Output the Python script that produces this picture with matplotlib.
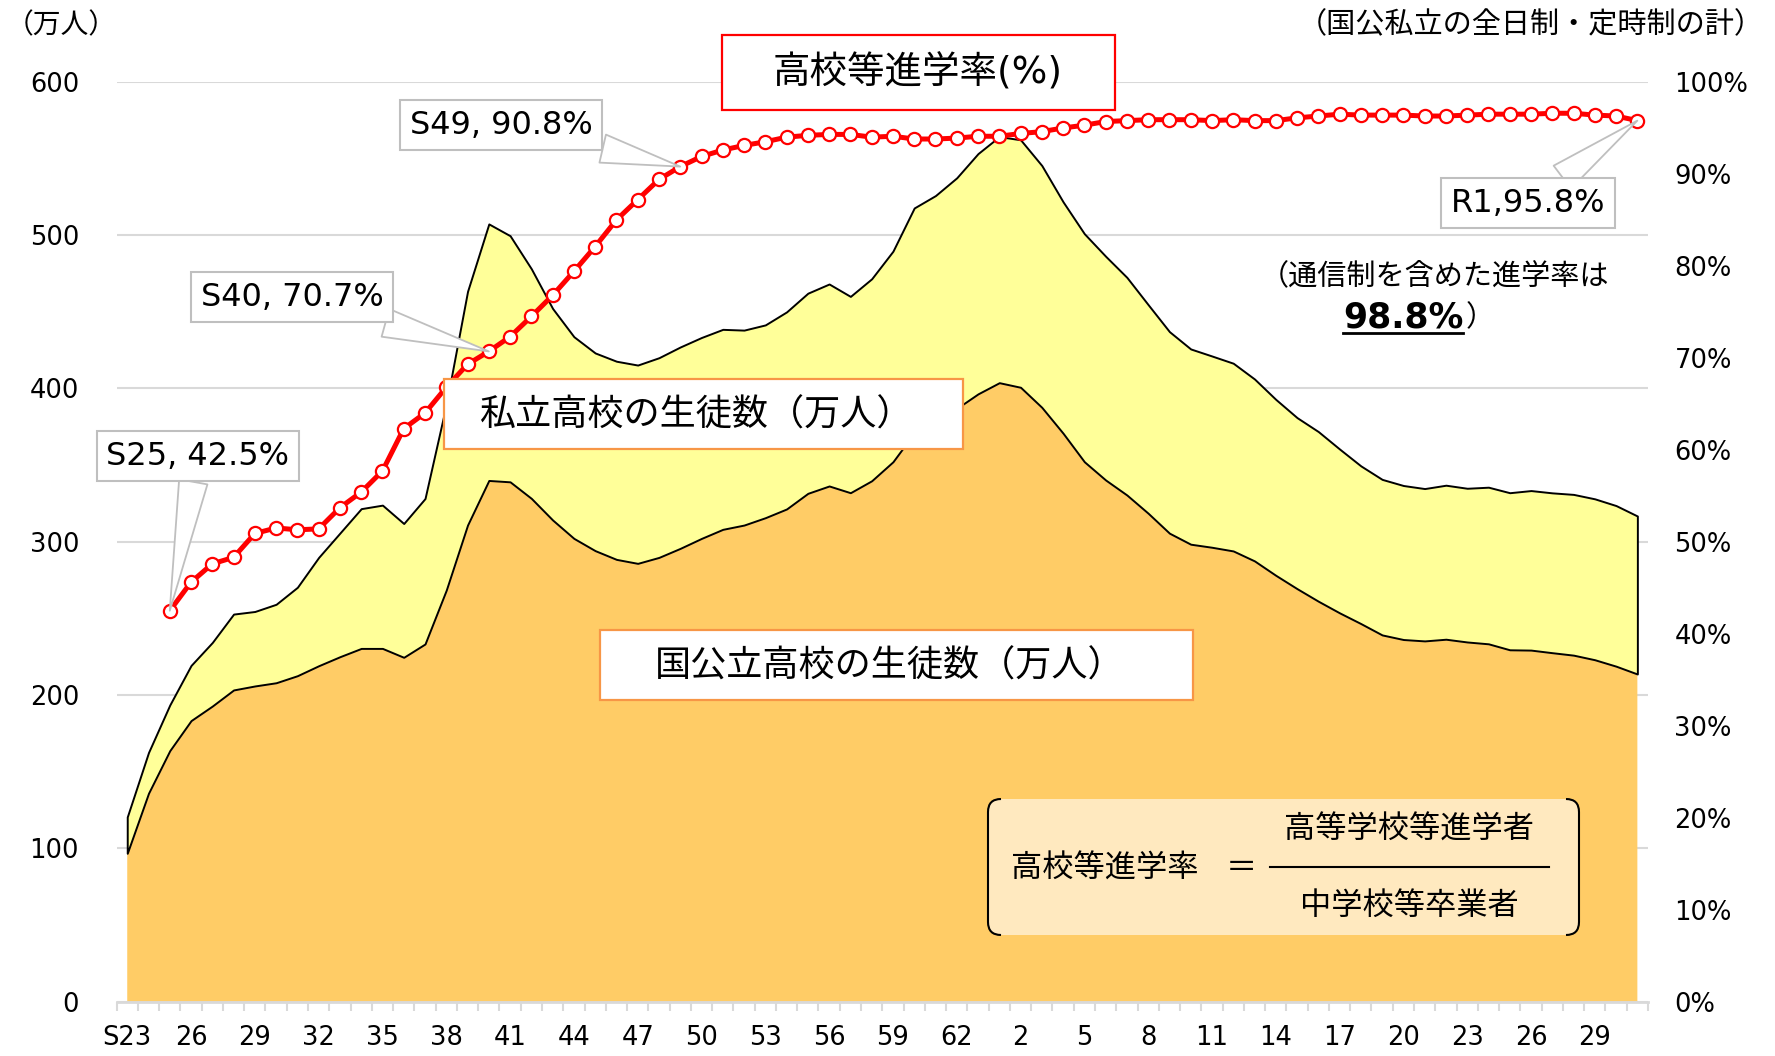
import matplotlib
matplotlib.use('Agg')
import matplotlib.pyplot as plt
from matplotlib.patches import Rectangle, FancyBboxPatch, PathPatch
from matplotlib.path import Path
import numpy as np

plt.rcParams['font.family'] = ['DejaVu Sans', 'Noto Sans CJK JP']

# ---------------- data ----------------
categories = ['S23', 'S24', 'S25', 'S26', 'S27', 'S28', 'S29', 'S30', 'S31', 'S32',
              'S33', 'S34', 'S35', 'S36', 'S37', 'S38', 'S39', 'S40', 'S41', 'S42',
              'S43', 'S44', 'S45', 'S46', 'S47', 'S48', 'S49', 'S50', 'S51', 'S52',
              'S53', 'S54', 'S55', 'S56', 'S57', 'S58', 'S59', 'S60', 'S61', 'S62',
              'S63', 'H1', 'H2', 'H3', 'H4', 'H5', 'H6', 'H7', 'H8', 'H9',
              'H10', 'H11', 'H12', 'H13', 'H14', 'H15', 'H16', 'H17', 'H18', 'H19',
              'H20', 'H21', 'H22', 'H23', 'H24', 'H25', 'H26', 'H27', 'H28', 'H29',
              'H30', 'R1']

# total students (national/public + private), 10k persons
total = [120.4, 162.5, 193.5, 219.3, 234.3, 252.8, 254.5, 259.2, 270.3, 289.8,
         305.7, 321.6, 323.9, 311.9, 328.2, 389.7, 463.4, 507.4, 499.7, 478.1,
         452.2, 433.8, 423.2, 417.8, 415.3, 420.1, 427.1, 433.3, 438.6, 438.1,
         441.5, 450.0, 462.2, 468.2, 460.1, 471.6, 489.6, 517.8, 525.9, 537.5,
         553.3, 564.4, 562.3, 545.5, 521.8, 501.0, 486.3, 472.5, 454.7, 437.1,
         425.8, 421.2, 416.5, 406.2, 392.9, 381.0, 371.9, 360.5, 349.5, 340.7,
         336.7, 334.7, 336.9, 334.9, 335.6, 332.0, 333.4, 331.9, 330.9, 328.0,
         323.6, 316.8]

# national/public students, 10k persons
public = [96.7, 135.9, 163.7, 183.3, 192.8, 203.3, 205.9, 208.0, 212.6, 219.1,
          225.0, 230.4, 230.4, 224.6, 233.3, 268.5, 310.9, 340.0, 339.1, 328.3,
          314.2, 302.2, 294.2, 288.5, 285.9, 289.8, 295.7, 302.2, 308.1, 310.9,
          315.7, 321.4, 331.6, 336.4, 332.0, 339.8, 352.2, 371.0, 379.0, 387.0,
          396.5, 403.8, 400.8, 387.7, 370.8, 352.2, 340.3, 330.5, 318.6, 305.6,
          298.4, 296.4, 294.0, 287.5, 278.1, 269.4, 261.2, 253.6, 246.6, 239.2,
          236.2, 235.3, 236.4, 234.6, 233.4, 229.5, 229.3, 227.6, 226.0, 223.0,
          218.8, 213.7]

# enrolment rate (%), from S25 to R1
rate_categories = categories[2:]
rate = [42.5, 45.6, 47.6, 48.3, 50.9, 51.5, 51.3, 51.4, 53.7, 55.4,
        57.7, 62.3, 64.0, 66.8, 69.3, 70.7, 72.3, 74.5, 76.8, 79.4,
        82.1, 85.0, 87.2, 89.4, 90.8, 91.9, 92.6, 93.1, 93.5, 94.0,
        94.2, 94.3, 94.3, 94.0, 94.1, 93.8, 93.8, 93.9, 94.1, 94.1,
        94.4, 94.6, 95.0, 95.3, 95.7, 95.8, 95.9, 95.9, 95.9, 95.8,
        95.9, 95.8, 95.8, 96.1, 96.3, 96.5, 96.4, 96.4, 96.4, 96.3,
        96.3, 96.4, 96.5, 96.5, 96.5, 96.6, 96.6, 96.4, 96.3, 95.8]

xtick_categories = ['S23', 'S26', 'S29', 'S32', 'S35', 'S38', 'S41', 'S44', 'S47', 'S50',
                    'S53', 'S56', 'S59', 'S62', 'H2', 'H5', 'H8', 'H11', 'H14', 'H17',
                    'H20', 'H23', 'H26', 'H29']
xtick_labels = ['S23', '26', '29', '32', '35', '38', '41', '44', '47', '50',
                '53', '56', '59', '62', '2', '5', '8', '11', '14', '17',
                '20', '23', '26', '29']

left_ticks = [0, 100, 200, 300, 400, 500, 600]
right_ticks = [0, 10, 20, 30, 40, 50, 60, 70, 80, 90, 100]

callouts = [('S25', 'S25, 42.5%'), ('S40', 'S40, 70.7%'), ('S49', 'S49, 90.8%'), ('R1', 'R1,95.8%')]

# ---------------- figure ----------------
W, H = 1775, 1056
fig = plt.figure(figsize=(W / 100, H / 100), dpi=100)
L, R, T, B = 116.6, 1648.0, 82.0, 1001.5
ax = fig.add_axes([L / W, 1 - B / H, (R - L) / W, (B - T) / H])

x = np.arange(len(categories))
idx = {c: i for i, c in enumerate(categories)}

ax.fill_between(x, 0, public, facecolor='#FFCC66', edgecolor='none', zorder=2)
ax.fill_between(x, public, total, facecolor='#FFFF99', edgecolor='black', linewidth=1.4, zorder=3)

ax.set_xlim(-0.5, len(categories) - 0.5)
ax.set_ylim(0, 600)
ax.set_yticks(left_ticks)
ax.set_yticklabels([str(v) for v in left_ticks])
ax.grid(axis='y', color='#D9D9D9', linewidth=1.5, zorder=0)
ax.set_axisbelow(True)
for s in ['left', 'right', 'top']:
    ax.spines[s].set_visible(False)
ax.spines['bottom'].set_color('#D9D9D9')
ax.spines['bottom'].set_linewidth(2)
ax.spines['bottom'].set_zorder(4)

ax.set_xticks([idx[c] for c in xtick_categories])
ax.set_xticklabels(xtick_labels)
ax.set_xticks(np.arange(-0.5, len(categories), 1.0), minor=True)
ax.tick_params(axis='x', which='major', length=0, pad=17, labelsize=18.5)
ax.tick_params(axis='x', which='minor', length=6.5, width=1.5, color='#D9D9D9', direction='out')
ax.tick_params(axis='y', length=0, pad=27, labelsize=18.5)

ax2 = ax.twinx()
ax2.set_ylim(0, 100)
ax2.set_yticks(right_ticks)
ax2.set_yticklabels([f'{v}%' for v in right_ticks])
ax2.tick_params(axis='y', length=0, pad=19, labelsize=18.5)
for s in ax2.spines.values():
    s.set_visible(False)

rx = [idx[c] for c in rate_categories]
ax2.plot(rx, rate, color='#FF0000', linewidth=3.6, marker='o', markersize=9.5,
         markerfacecolor='white', markeredgecolor='#FF0000', markeredgewidth=1.6, zorder=4)

# callouts
callout_pos = {'S25': (198, 456), 'S40': (292, 297), 'S49': (501, 125), 'R1': (1528, 203)}
rate_map = dict(zip(rate_categories, rate))
for cat, label in callouts:
    px, py = callout_pos[cat]
    ax2.annotate(label, xy=(idx[cat], rate_map[cat]), xycoords='data',
                 xytext=(px / W, 1 - py / H), textcoords='figure fraction',
                 ha='center', va='center', fontsize=23, zorder=6,
                 bbox=dict(boxstyle='square,pad=0.3', fc='white', ec='#BFBFBF', lw=1.5),
                 arrowprops=dict(arrowstyle='wedge,tail_width=0.9,shrink_factor=0.5',
                                 fc='white', ec='#BFBFBF', lw=1.3, shrinkA=0, shrinkB=0))

# ---------------- overlay (pixel coordinates) ----------------
oa = fig.add_axes([0, 0, 1, 1])
oa.set_xlim(0, W)
oa.set_ylim(H, 0)
oa.axis('off')
oa.set_zorder(10)

oa.text(6, 25, '（万人）', ha='left', va='center', fontsize=20)
oa.text(1764, 25, '（国公私立の全日制・定時制の計）', ha='right', va='center', fontsize=21)

oa.add_patch(Rectangle((722, 35), 393, 75, fc='white', ec='#FF0000', lw=1.6))
oa.text(918, 73, '高校等進学率(%)', ha='center', va='center', fontsize=27)

oa.add_patch(Rectangle((444, 379), 519, 70, fc='white', ec='#F79646', lw=1.6))
oa.text(697, 415, '私立高校の生徒数（万人）', ha='center', va='center', fontsize=26)

oa.add_patch(Rectangle((600, 630), 593, 70, fc='white', ec='#F79646', lw=1.6))
oa.text(890, 666, '国公立高校の生徒数（万人）', ha='center', va='center', fontsize=26)

# note on correspondence courses
oa.text(1260, 276, '（通信制を含めた進学率は', ha='left', va='center', fontsize=21)
t988 = oa.text(1343, 318, '98.8%', ha='left', va='center', fontsize=25, fontweight='bold')
fig.canvas.draw()
bb = t988.get_window_extent().transformed(oa.transData.inverted())
x0, x1 = min(bb.x0, bb.x1), max(bb.x0, bb.x1)
ybot = max(bb.y0, bb.y1)
oa.plot([x0, x1], [ybot - 2, ybot - 2], color='black', lw=2)
oa.text(x1 + 2, 318, '）', ha='left', va='center', fontsize=21)

# formula box
oa.add_patch(FancyBboxPatch((988, 799), 591, 136, boxstyle='round,pad=0,rounding_size=14',
                            fc='#FFE9BF', ec='none'))
r = 13
lb = Path([(988 + r, 799), (988, 799), (988, 799 + r), (988, 935 - r), (988, 935), (988 + r, 935)],
          [Path.MOVETO, Path.CURVE3, Path.CURVE3, Path.LINETO, Path.CURVE3, Path.CURVE3])
rb = Path([(1579 - r, 799), (1579, 799), (1579, 799 + r), (1579, 935 - r), (1579, 935), (1579 - r, 935)],
          [Path.MOVETO, Path.CURVE3, Path.CURVE3, Path.LINETO, Path.CURVE3, Path.CURVE3])
oa.add_patch(PathPatch(lb, fc='none', ec='black', lw=1.5))
oa.add_patch(PathPatch(rb, fc='none', ec='black', lw=1.5))
oa.text(1011, 869, '高校等進学率', ha='left', va='center', fontsize=22.5)
oa.text(1241, 869, '＝', ha='center', va='center', fontsize=22.5)
oa.plot([1270, 1549], [867, 867], color='black', lw=1.5)
oa.text(1409, 830, '高等学校等進学者', ha='center', va='center', fontsize=22.5)
oa.text(1409, 906, '中学校等卒業者', ha='center', va='center', fontsize=22.5)

fig.savefig('out.png', dpi=100)
